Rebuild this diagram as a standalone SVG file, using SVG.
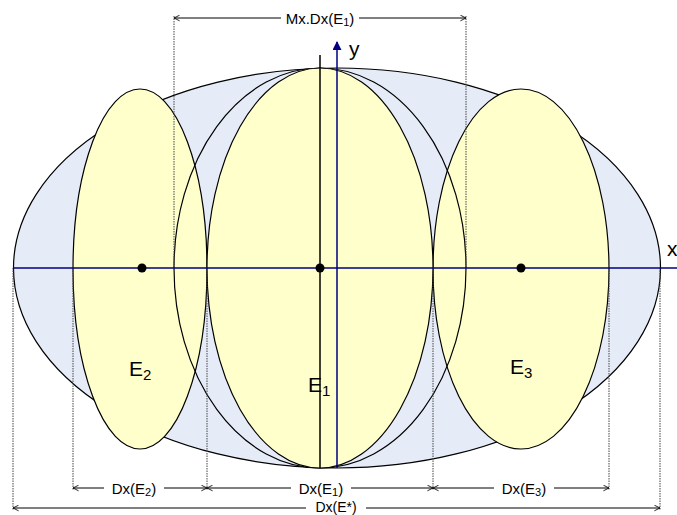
<svg xmlns="http://www.w3.org/2000/svg" width="677" height="515" viewBox="0 0 677 515">
<defs>
<style>
.sh{stroke:#000;stroke-width:1.2}
.blue{fill:#e6ecf7}
.yel{fill:#ffffcc}
.ax{stroke:#000080;stroke-width:1.5;fill:none}
.dim{stroke:#000;stroke-width:1;fill:none}
.dot{stroke:#444;stroke-width:1;stroke-dasharray:1.5 1;fill:none}
.t{font-family:"Liberation Sans",Arial,sans-serif;fill:#000}
.lab{font-size:15px}
.big{font-size:21px}
</style>
<marker id="ah" viewBox="0 0 10 10" refX="9" refY="5" markerWidth="7" markerHeight="7" orient="auto-start-reverse" markerUnits="userSpaceOnUse">
<path d="M1,1 L9,5 L1,9" fill="none" stroke="#000" stroke-width="1.2"/>
</marker>
<marker id="ya" viewBox="0 0 10 10" refX="9" refY="5" markerWidth="11" markerHeight="9" orient="auto" markerUnits="userSpaceOnUse">
<path d="M0,0 L10,5 L0,10 z" fill="#000080"/>
</marker>
</defs>
<g id="Estar"><ellipse cx="337" cy="268" rx="323.5" ry="200" class="sh blue"/></g>
<g id="E2"><ellipse cx="140" cy="269" rx="67" ry="180" class="sh yel"/></g>
<g id="E3"><ellipse cx="521" cy="269" rx="88" ry="180" class="sh yel"/></g>
<g id="Mx"><ellipse cx="320" cy="268" rx="146" ry="200" class="sh" fill="none"/></g>
<g id="E1"><ellipse cx="320" cy="268" rx="113" ry="200" class="sh yel"/></g>
<g id="connectors">
<line x1="174" y1="16" x2="174" y2="268" class="dot"/>
<line x1="466" y1="16" x2="466" y2="268" class="dot"/>
<line x1="13" y1="268" x2="13" y2="510" class="dot"/>
<line x1="660" y1="268" x2="660" y2="510" class="dot"/>
<line x1="73" y1="268" x2="73" y2="490" class="dot"/>
<line x1="207" y1="268" x2="207" y2="490" class="dot"/>
<line x1="433" y1="268" x2="433" y2="490" class="dot"/>
<line x1="609" y1="268" x2="609" y2="490" class="dot"/>
<line x1="13" y1="268" x2="677" y2="268" class="ax"/>
<line x1="337" y1="468" x2="337" y2="42" class="ax" marker-end="url(#ya)"/>
<line x1="320" y1="55" x2="320" y2="468" stroke="#000" stroke-width="1.5"/>
<line x1="174" y1="18" x2="466" y2="18" class="dim" marker-start="url(#ah)" marker-end="url(#ah)"/>
<line x1="73" y1="488" x2="207" y2="488" class="dim" marker-start="url(#ah)" marker-end="url(#ah)"/>
<line x1="207" y1="488" x2="433" y2="488" class="dim" marker-start="url(#ah)" marker-end="url(#ah)"/>
<line x1="433" y1="488" x2="609" y2="488" class="dim" marker-start="url(#ah)" marker-end="url(#ah)"/>
<line x1="13" y1="508" x2="660" y2="508" class="dim" stroke="#555" stroke-width="1.5" marker-start="url(#ah)" marker-end="url(#ah)"/>
</g>
<g id="dots">
<circle cx="142" cy="268" r="4.5" fill="#000"/>
<circle cx="320" cy="268" r="4.5" fill="#000"/>
<circle cx="521" cy="268" r="4.5" fill="#000"/>
</g>
<g id="labels">
<rect x="281" y="9" width="78" height="18" fill="#fff"/>
<text x="320" y="24" text-anchor="middle" class="t lab">Mx.Dx(E<tspan font-size="11" dy="2">1</tspan><tspan dy="-2">)</tspan></text>
<rect x="104" y="480" width="60" height="17" fill="#fff"/>
<text x="134" y="494" text-anchor="middle" class="t lab">Dx(E<tspan font-size="11" dy="2">2</tspan><tspan dy="-2">)</tspan></text>
<rect x="291" y="480" width="60" height="17" fill="#fff"/>
<text x="321" y="494" text-anchor="middle" class="t lab">Dx(E<tspan font-size="11" dy="2">1</tspan><tspan dy="-2">)</tspan></text>
<rect x="494" y="480" width="60" height="17" fill="#fff"/>
<text x="524" y="494" text-anchor="middle" class="t lab">Dx(E<tspan font-size="11" dy="2">3</tspan><tspan dy="-2">)</tspan></text>
<rect x="306" y="500" width="60" height="15" fill="#fff"/>
<text x="336" y="512" text-anchor="middle" class="t" font-size="14">Dx(E*)</text>
<text x="129" y="376" class="t big">E<tspan font-size="15" dy="4">2</tspan></text>
<text x="308" y="392" class="t big">E<tspan font-size="15" dy="4">1</tspan></text>
<text x="510" y="374" class="t big">E<tspan font-size="15" dy="4">3</tspan></text>
<text x="349" y="56" class="t big">y</text>
<text x="667" y="256" class="t big">x</text>
</g>
</svg>
